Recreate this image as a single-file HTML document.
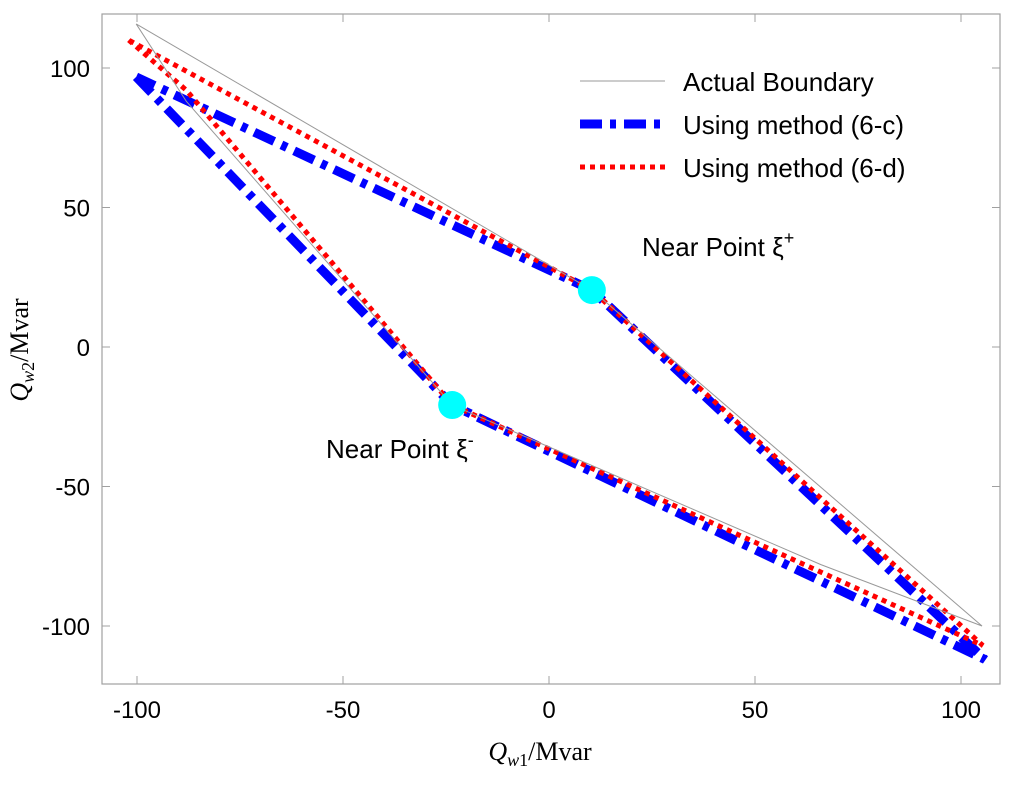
<!DOCTYPE html>
<html><head><meta charset="utf-8"><style>
body{margin:0;background:#fff}
svg text{font-family:"Liberation Sans",Arial,sans-serif}
</style></head><body>
<svg id="chart" width="1024" height="786" viewBox="0 0 1024 786" xmlns="http://www.w3.org/2000/svg">
<rect x="0" y="0" width="1024" height="786" fill="#fff"/>
<g id="marks"></g>
<rect x="102" y="14" width="898" height="670" fill="none" stroke="#a0a0a0" stroke-width="1.2"/>
<g id="axes"></g>
<text x="540" y="760" font-size="26" text-anchor="middle" style="font-family:'Liberation Serif',serif"><tspan font-style="italic">Q</tspan><tspan font-style="italic" font-size="18" dy="6">w</tspan><tspan font-size="18">1</tspan><tspan dy="-6">/Mvar</tspan></text>
<text transform="translate(28,350) rotate(-90)" font-size="26" text-anchor="middle" style="font-family:'Liberation Serif',serif"><tspan font-style="italic">Q</tspan><tspan font-style="italic" font-size="18" dy="6">w</tspan><tspan font-size="18">2</tspan><tspan dy="-6">/Mvar</tspan></text>
<g>
<line x1="580" y1="81" x2="665" y2="81" stroke="#999" stroke-width="1"/>
<text x="683" y="91" font-size="26">Actual Boundary</text>
<line x1="580" y1="124" x2="665" y2="124" stroke="#0000ff" stroke-width="9" stroke-dasharray="22,8,6,8"/>
<text x="683" y="134" font-size="26">Using method (6-c)</text>
<line x1="580" y1="167" x2="665" y2="167" stroke="#ff0000" stroke-width="5" stroke-dasharray="5,5"/>
<text x="683" y="177" font-size="26">Using method (6-d)</text>
</g>
<text x="642" y="256" font-size="26">Near Point ξ<tspan font-size="18" dy="-12">+</tspan></text>
<text x="326" y="458" font-size="26">Near Point ξ<tspan font-size="18" dy="-12">-</tspan></text>
</svg>
<script>
const xTicks=[-100,-50,0,50,100];
const yTicks=[-100,-50,0,50,100];
const actualX=[-100.2,-88,-23.5,66,105.1,10.4,-100.2];
const actualY=[115.8,88,-20.8,-78,-100,20.4,115.8];
const methodCX=[-100.2,-23.5,105.8,10.4,-100.2];
const methodCY=[96.8,-20.8,-112,20.4,96.8];
const methodDX=[-102,-88,-23.5,105.3,10.4,-102];
const methodDY=[110,92,-20.8,-107,20.4,110];
const nearX=[10.4,-23.5];
const nearY=[20.4,-20.8];
const sx=v=>549+v*4.12, sy=v=>347-v*2.79;
const NS="http://www.w3.org/2000/svg";
const marks=document.getElementById('marks'), axes=document.getElementById('axes');
function mk(t,a,p){const e=document.createElementNS(NS,t);for(const k in a)e.setAttribute(k,a[k]);p.appendChild(e);return e;}
xTicks.forEach(v=>{
 const l=mk('line',{x1:sx(v),x2:sx(v),y1:684,y2:676,stroke:'#a0a0a0'},axes);
 
 
 const l2=mk('line',{x1:sx(v),x2:sx(v),y1:14,y2:22,stroke:'#a0a0a0'},axes);
 
 
 const t=mk('text',{x:sx(v),y:718,'font-size':24,'text-anchor':'middle'},axes);t.textContent=v;
 
 
});
yTicks.forEach(v=>{
 const l=mk('line',{x1:102,x2:110,y1:sy(v),y2:sy(v),stroke:'#a0a0a0'},axes);
 
 
 const l2=mk('line',{x1:992,x2:1000,y1:sy(v),y2:sy(v),stroke:'#a0a0a0'},axes);
 
 
 const t=mk('text',{x:90,y:sy(v)+9,'font-size':24,'text-anchor':'end'},axes);t.textContent=v;
 
 
});
function pts(X,Y){return X.map((x,i)=>sx(x)+','+sy(Y[i])).join(' ');}
const pc=mk('polyline',{points:pts(methodCX,methodCY),fill:'none',stroke:'#0000ff','stroke-width':9,'stroke-dasharray':'22,8,6,8'},marks);


const pd=mk('polyline',{points:pts(methodDX,methodDY),fill:'none',stroke:'#ff0000','stroke-width':5,'stroke-dasharray':'5,5'},marks);


const pa=mk('polyline',{points:pts(actualX,actualY),fill:'none',stroke:'#999','stroke-width':1},marks);


nearX.forEach((x,i)=>{
 const c=mk('circle',{cx:sx(x),cy:sy(nearY[i]),r:14,fill:'#00ffff'},marks);
 
 
});
</script>
</body></html>
